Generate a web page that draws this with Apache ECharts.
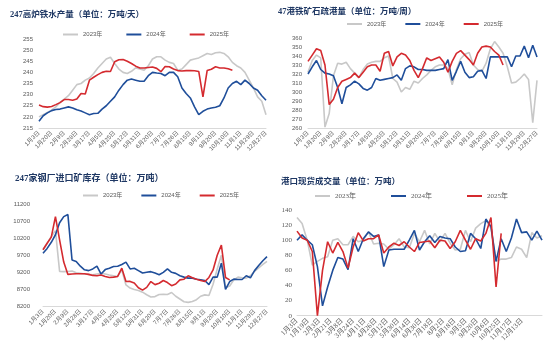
<!DOCTYPE html>
<html>
<head>
<meta charset="utf-8">
<script src="https://cdn.jsdelivr.net/npm/echarts@6/dist/echarts.min.js"></script>
<style>
body{margin:0;background:#fff;}
.box{position:absolute;}
</style>
</head>
<body>
<div id="c1" class="box" style="left:0;top:0;width:275px;height:170px"></div>
<div id="c2" class="box" style="left:275px;top:0;width:275px;height:170px"></div>
<div id="c3" class="box" style="left:0;top:170px;width:275px;height:184px"></div>
<div id="c4" class="box" style="left:275px;top:170px;width:275px;height:184px"></div>
<script>
var names = ['2023年', '2024年', '2025年'];
var colors = ['#c8c8c8', '#1f4e9a', '#d42a2f'];

// 周度日期（前三张图共用），每隔两个显示一个
var dates = ['1月3日','1月9日','1月14日','1月20日','1月27日','2月2日','2月9日','2月15日','2月22日','2月28日',
  '3月5日','3月11日','3月17日','3月24日','3月30日','4月5日','4月12日','4月19日','4月25日','5月1日',
  '5月6日','5月12日','5月18日','5月25日','5月31日','6月7日','6月14日','6月20日','6月26日','7月1日',
  '7月7日','7月13日','7月20日','7月26日','8月2日','8月9日','8月15日','8月21日','8月26日','9月1日',
  '9月7日','9月13日','9月20日','9月27日','10月4日','10月10日','10月18日','10月25日','11月1日','11月10日',
  '11月20日','11月29日','12月8日','12月18日','12月27日'];

// 247高炉铁水产量
var iron2023 = [220.0,221.0,222.0,223.0,224.5,226.5,228.0,229.5,232.0,234.5,235.0,236.5,237.5,239.5,242.0,244.0,246.0,246.8,244.0,241.5,
  240.0,239.5,240.5,242.0,241.5,241.0,243.0,246.0,247.0,247.0,245.5,244.5,244.0,241.0,241.5,243.5,245.5,246.0,246.5,247.5,
  248.5,248.0,248.8,249.0,248.5,247.0,244.5,243.0,242.0,240.0,236.5,233.0,229.0,227.0,221.0];
var iron2024 = [218.0,220.5,221.8,222.8,223.3,223.5,224.0,224.5,224.0,223.2,222.6,221.8,221.0,221.5,221.6,223.5,225.0,227.0,229.0,232.0,
  234.5,236.5,237.0,236.5,236.0,236.0,238.5,240.0,239.7,239.5,238.5,240.0,240.0,238.0,233.0,230.5,228.5,224.5,221.0,222.5,
  223.5,224.0,224.3,225.0,228.5,233.0,235.0,236.0,234.5,236.5,235.0,233.0,232.0,229.5,227.5];
var iron2025 = [225.3,224.6,224.4,224.7,225.5,226.4,227.8,227.8,227.5,228.0,230.5,230.3,236.5,237.8,239.0,240.0,240.5,240.4,244.8,245.7,
  245.8,245.0,244.0,242.8,242.0,242.0,242.2,242.4,241.8,240.3,242.6,242.5,241.5,240.8,240.6,240.8,240.8,240.7,240.4,229.0,
  240.8,241.4,242.5,242.0,242.0,241.6,241.0];

// 47港铁矿石疏港量
var port2023 = [322,335,341,338,261,276,318,332,331,333,326,321,316,325,331,333,334,334,338,340,
  315,311,300,305,303,312,310,315,319,324,328,330,330,326,308,325,337,342,344,330,
  325,323,332,348,356,350,343,328,310,311,315,320,314,266,313];
var port2024 = [320,328,335,325,321,320,318,305,287,305,308,312,309,304,302,305,315,313,314,315,
  316,319,313,326,329,328,325,325,324,324,324,325,326,336,313,323,334,322,316,317,
  323,324,315,339,339,339,339,339,328,340,340,351,338,352,339];
var port2025 = [334,341,348,346,330,286,292,305,312,314,316,321,316,322,328,330,330,323,343,345,
  329,339,343,341,335,324,316,326,338,335,337,339,333,322,334,343,346,341,336,330,
  343,350,351,350,345,341,330];

// 247家钢厂进口矿库存
var stock2023 = [9860,10050,10250,10420,9226,9220,9226,9240,9190,9170,9150,9140,9128,9150,9170,9150,9120,9100,9080,9270,
  8830,8740,8700,8670,8620,8545,8480,8490,8550,8560,8550,8610,8500,8420,8340,8320,8345,8400,8500,8540,
  8520,8850,9300,9700,8750,8800,8980,9060,9040,9030,9100,9230,9330,9430,9520];
var stock2024 = [9760,9900,10080,10300,10650,10830,10890,9560,9520,9380,9275,9250,9300,9380,9150,9280,9320,9370,9380,9430,
  9500,9300,9320,9250,9180,9200,9220,9180,9130,9200,9300,9200,9170,9100,9060,9030,9030,9000,8982,8960,
  8840,9060,9060,9470,8700,8930,9000,8990,8990,9100,9040,9250,9400,9540,9660];
var stock2025 = [9860,10050,10230,10830,10150,9500,9140,9150,9160,9160,9160,9140,9110,9100,9120,9080,9050,9060,9080,9320,
  8930,8935,8890,8750,8680,8760,8930,8840,8880,8960,8900,8810,8860,8980,9000,9100,9040,9000,8960,8930,
  9050,9270,9700,10000,9050,8980];

// 港口现货成交量（周度，横轴标签另算）
var trade2023 = [130,122,100,67,72,76,78,100,102,94,94,105,98,100,111,95,96,95,88,94,
  102,91,90,109,98,113,95,109,98,109,96,87,88,113,98,116,122,126,116,72,
  75,75,77,91,88,77,110,103,106];
var trade2024 = [100,107,100,94,65,13,38,60,77,75,61,102,85,102,111,105,107,65,87,88,
  88,88,100,113,87,98,106,97,105,103,102,91,85,86,109,102,89,128,118,72,
  102,85,103,128,110,111,100,112,100];
var trade2025 = [112,103,100,85,0,60,98,83,97,85,63,91,110,99,102,102,107,83,91,96,
  93,98,91,85,97,98,99,90,100,99,89,98,113,100,88,102,99,109,130,38,109];
var tradeLabels = ['1月3日','1月19日','2月3日','2月21日','3月8日','3月24日','4月11日','4月26日','5月12日','5月30日',
  '6月14日','6月30日','7月18日','8月2日','8月18日','9月5日','9月20日','10月6日','10月25日','11月17日','12月13日'];
var tradeStep = 2.206; // 每个标签间隔约2.2周

var sans = "'Liberation Sans','Noto Sans CJK SC',sans-serif";
var serif = "'Liberation Serif','Noto Sans CJK SC',serif";

function makePanel(id, p) {
  var chart = echarts.init(document.getElementById(id));
  var font = p.serif ? serif : sans;
  var series = p.values.map(function (v, i) {
    return {
      name: names[i], type: 'line', symbol: 'none', animation: false,
      data: p.xValue ? v.map(function (y, k) { return [k, y]; }) : v,
      lineStyle: { width: 1.6, color: colors[i] },
      itemStyle: { color: colors[i] }
    };
  });
  var xLabel = { rotate: 45, fontSize: p.axisFont, color: '#595959', margin: 4, fontFamily: font };
  var xAxis;
  if (p.xValue) {
    xLabel.formatter = function (v) {
      var k = Math.round(v / tradeStep);
      if (Math.abs(v - k * tradeStep) < 0.01 && k < tradeLabels.length) return tradeLabels[k];
      return '';
    };
    xAxis = { type: 'value', min: 0, max: p.values[1].length - 1, interval: tradeStep,
      axisLine: { onZero: false, lineStyle: { color: '#d9d9d9' } }, axisTick: { show: false },
      splitLine: { show: false }, axisLabel: xLabel };
  } else {
    xLabel.interval = 2;
    xAxis = { type: 'category', data: dates, boundaryGap: false,
      axisLine: { onZero: false, lineStyle: { color: '#d9d9d9' } }, axisTick: { show: false },
      axisLabel: xLabel };
  }
  chart.setOption({
    title: { text: p.title, left: p.titleLeft, top: p.titleTop, padding: 0,
      textStyle: { fontSize: p.titleSize, fontWeight: 'bold', color: '#1f3864', fontFamily: serif } },
    legend: { data: names, left: p.legendLeft, top: p.legendTop, padding: 0, icon: 'rect',
      itemWidth: 15, itemHeight: 2, itemGap: p.legendGap,
      textStyle: { fontSize: p.axisFont, color: '#595959', fontFamily: font } },
    grid: p.grid,
    xAxis: xAxis,
    yAxis: { type: 'value', min: p.yMin, max: p.yMax, interval: p.yStep,
      axisLine: { show: false }, axisTick: { show: false }, splitLine: { show: false },
      axisLabel: { fontSize: p.axisFont, color: '#595959', margin: p.yMargin, fontFamily: font,
        formatter: function (v) { return String(v); } } },
    series: series
  });
}

makePanel('c1', {
  title: '247高炉铁水产量（单位：万吨/天）', titleLeft: 10, titleTop: 11, titleSize: 8.5,
  legendLeft: 63, legendTop: 31.5, legendGap: 24, axisFont: 6,
  grid: { left: 39, top: 39, width: 227, height: 89 },
  yMin: 215, yMax: 255, yStep: 5, yMargin: 6,
  values: [iron2023, iron2024, iron2025]
});
makePanel('c2', {
  title: '47港铁矿石疏港量（单位：万吨/周）', titleLeft: 3, titleTop: 8, titleSize: 8.5,
  legendLeft: 72, legendTop: 21, legendGap: 19, axisFont: 6,
  grid: { left: 33, top: 38, width: 229, height: 90 },
  yMin: 260, yMax: 360, yStep: 10, yMargin: 6,
  values: [port2023, port2024, port2025]
});
makePanel('c3', {
  title: '247家钢厂进口矿库存（单位：万吨）', titleLeft: 15, titleTop: 4.5, titleSize: 9,
  legendLeft: 83, legendTop: 22.5, legendGap: 19, axisFont: 6,
  grid: { left: 43, top: 34, width: 224, height: 102.5 },
  yMin: 8200, yMax: 11200, yStep: 500, yMargin: 13,
  values: [stock2023, stock2024, stock2025]
});
makePanel('c4', {
  title: '港口现货成交量（单位：万吨）', titleLeft: 6, titleTop: 7.5, titleSize: 8.5,
  legendLeft: 40, legendTop: 22.5, legendGap: 35, axisFont: 7, serif: true, xValue: true,
  grid: { left: 22, top: 40, width: 245, height: 105.7 },
  yMin: 0, yMax: 140, yStep: 20, yMargin: 5,
  values: [trade2023, trade2024, trade2025]
});
</script>
</body>
</html>
